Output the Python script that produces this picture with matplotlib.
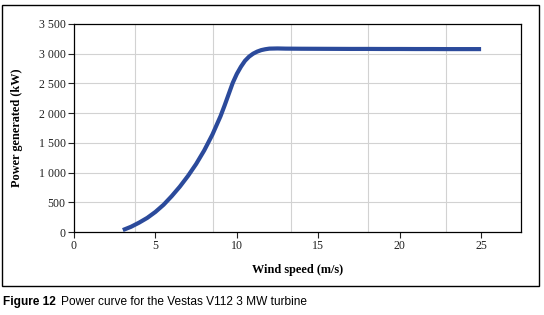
import matplotlib.pyplot as plt
from matplotlib.patches import Rectangle
from matplotlib.ticker import FuncFormatter

# Vestas V112 3 MW power curve
wind_speed = [3, 3.5, 4, 4.5, 5, 5.5, 6, 6.5, 7, 7.5, 8, 8.5, 9, 9.25, 9.5,
              9.75, 10, 10.25, 10.5, 10.75, 11, 11.25, 11.5, 11.75, 12,
              12.5, 13, 14, 15, 16, 17, 18, 19, 20, 21, 22, 23, 24, 25]
power_kw = [35, 90, 160, 240, 340, 460, 605, 765, 945, 1145, 1375, 1640,
            1950, 2130, 2320, 2510, 2660, 2780, 2880, 2950, 3000, 3035,
            3060, 3075, 3085, 3088, 3085, 3083, 3082, 3081, 3080, 3080,
            3079, 3079, 3078, 3078, 3077, 3077, 3077]

x_ticks = [0, 5, 10, 15, 20, 25]
y_ticks = [0, 500, 1000, 1500, 2000, 2500, 3000, 3500]
# vertical gridlines in the original are offset from the tick marks
x_grid = [3.77, 8.56, 13.31, 18.08, 22.85]

serif = "Liberation Serif"

fig = plt.figure(figsize=(5.44, 3.15), dpi=100)
fig.patch.set_facecolor("white")

# outer frame around the chart
fig.patches.append(Rectangle((0.003, 0.092), 0.988, 0.892, transform=fig.transFigure,
                             fill=False, edgecolor="black", linewidth=1.0))

ax = fig.add_axes([0.136, 0.263, 0.822, 0.661])
ax.plot(wind_speed, power_kw, color="#2b4a9b", linewidth=3.0,
        solid_capstyle="butt", solid_joinstyle="round", zorder=3)

ax.set_xlim(0, 27.46)
ax.set_ylim(0, 3500)
ax.set_xticks(x_ticks)
ax.set_yticks(y_ticks)
ax.yaxis.set_major_formatter(FuncFormatter(lambda v, _: f"{int(v):,}".replace(",", " ")))

for g in x_grid:
    ax.axvline(g, color="#d2d2d2", linewidth=0.8, zorder=1)
for g in y_ticks[1:-1]:
    ax.axhline(g, color="#d2d2d2", linewidth=0.8, zorder=1)

for s in ax.spines.values():
    s.set_linewidth(0.9)
    s.set_color("black")

ax.tick_params(axis="both", direction="out", length=4, width=0.8, pad=2,
               labelsize=8.6, colors="#222222")
for lab in ax.get_xticklabels() + ax.get_yticklabels():
    lab.set_fontfamily(serif)

ax.set_xlabel("Wind speed (m/s)", fontfamily=serif, fontsize=8.8, fontweight="bold")
ax.set_ylabel("Power generated (kW)", fontfamily=serif, fontsize=8.8, fontweight="bold")
ax.xaxis.set_label_coords(0.5, -0.154)
ax.yaxis.set_label_coords(-0.114, 0.5)

fig.text(0.006, 0.041, "Figure 12", fontfamily="Liberation Sans", fontsize=8.6,
         fontweight="bold", va="center")
fig.text(0.112, 0.041, "Power curve for the Vestas V112 3 MW turbine",
         fontfamily="Liberation Sans", fontsize=8.6, va="center")

fig.savefig("out.png", dpi=100)
